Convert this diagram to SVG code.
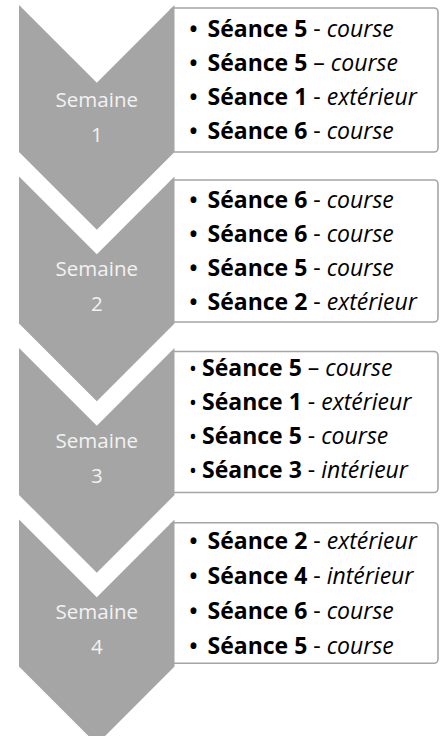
<svg xmlns="http://www.w3.org/2000/svg" width="441" height="736" viewBox="0 0 441 736">
<style>
.chev{fill:#a5a5a5}
.box{fill:#ffffff;stroke:#a5a5a5;stroke-width:1.6}
.wk{font-family:"Open Sans","Noto Sans",sans-serif;font-size:20.5px;fill:#f2f2f2;text-anchor:middle}
.ln{font-family:"Open Sans","Noto Sans",sans-serif;font-size:23px;fill:#000000}
.b{font-weight:bold}
.i{font-style:italic}
.bul{font-family:"Open Sans","Noto Sans",sans-serif;font-size:21px;font-weight:bold;fill:#000000}
.bul2{font-family:"Open Sans","Noto Sans",sans-serif;font-size:21px;fill:#000000}
</style>
<rect width="441" height="736" fill="#ffffff"/>
<g id="week1">
<rect class="box" x="170" y="8" width="268" height="144" rx="4"/>
<polygon class="chev" points="19,5 96.8,82.8 174.5,5 174.5,152 96.8,229.8 19,152"/>
<text class="wk" x="96.8" y="106.5">Semaine</text>
<text class="wk" x="96.8" y="141.5">1</text>
<text class="bul" x="189.5" y="36.5">•</text>
<text class="ln" x="207.5" y="36.5"><tspan class="b">Séance 5</tspan> - <tspan class="i">course</tspan></text>
<text class="bul" x="189.5" y="70.5">•</text>
<text class="ln" x="207.5" y="70.5"><tspan class="b">Séance 5</tspan> – <tspan class="i">course</tspan></text>
<text class="bul" x="189.5" y="104.5">•</text>
<text class="ln" x="207.5" y="104.5"><tspan class="b">Séance 1</tspan> - <tspan class="i">extérieur</tspan></text>
<text class="bul" x="189.5" y="138.5">•</text>
<text class="ln" x="207.5" y="138.5"><tspan class="b">Séance 6</tspan> - <tspan class="i">course</tspan></text>
</g>
<g id="week2">
<rect class="box" x="170" y="180" width="268" height="142" rx="4"/>
<polygon class="chev" points="19,176.5 96.8,254.3 174.5,176.5 174.5,323.5 96.8,401.3 19,323.5"/>
<text class="wk" x="96.8" y="276">Semaine</text>
<text class="wk" x="96.8" y="311">2</text>
<text class="bul" x="189.5" y="207.5">•</text>
<text class="ln" x="207.5" y="207.5"><tspan class="b">Séance 6</tspan> - <tspan class="i">course</tspan></text>
<text class="bul" x="189.5" y="241.5">•</text>
<text class="ln" x="207.5" y="241.5"><tspan class="b">Séance 6</tspan> - <tspan class="i">course</tspan></text>
<text class="bul" x="189.5" y="275.5">•</text>
<text class="ln" x="207.5" y="275.5"><tspan class="b">Séance 5</tspan> - <tspan class="i">course</tspan></text>
<text class="bul" x="189.5" y="309.5">•</text>
<text class="ln" x="207.5" y="309.5"><tspan class="b">Séance 2</tspan> - <tspan class="i">extérieur</tspan></text>
</g>
<g id="week3">
<rect class="box" x="170" y="351.5" width="268" height="141" rx="4"/>
<polygon class="chev" points="19,348 96.8,425.8 174.5,348 174.5,495 96.8,572.8 19,495"/>
<text class="wk" x="96.8" y="447.5">Semaine</text>
<text class="wk" x="96.8" y="482.5">3</text>
<text class="bul2" x="189" y="376">•</text>
<text class="ln" x="202" y="376"><tspan class="b">Séance 5</tspan> – <tspan class="i">course</tspan></text>
<text class="bul2" x="189" y="410">•</text>
<text class="ln" x="202" y="410"><tspan class="b">Séance 1</tspan> - <tspan class="i">extérieur</tspan></text>
<text class="bul2" x="189" y="444">•</text>
<text class="ln" x="202" y="444"><tspan class="b">Séance 5</tspan> - <tspan class="i">course</tspan></text>
<text class="bul2" x="189" y="478">•</text>
<text class="ln" x="202" y="478"><tspan class="b">Séance 3</tspan> - <tspan class="i">intérieur</tspan></text>
</g>
<g id="week4">
<rect class="box" x="170" y="522.7" width="268" height="140.6" rx="4"/>
<polygon class="chev" points="19,519.5 96.8,597.3 174.5,519.5 174.5,666.5 96.8,744.3 19,666.5"/>
<text class="wk" x="96.8" y="619">Semaine</text>
<text class="wk" x="96.8" y="654">4</text>
<text class="bul" x="189.5" y="549">•</text>
<text class="ln" x="207.5" y="549"><tspan class="b">Séance 2</tspan> - <tspan class="i">extérieur</tspan></text>
<text class="bul" x="189.5" y="584">•</text>
<text class="ln" x="207.5" y="584"><tspan class="b">Séance 4</tspan> - <tspan class="i">intérieur</tspan></text>
<text class="bul" x="189.5" y="619">•</text>
<text class="ln" x="207.5" y="619"><tspan class="b">Séance 6</tspan> - <tspan class="i">course</tspan></text>
<text class="bul" x="189.5" y="654">•</text>
<text class="ln" x="207.5" y="654"><tspan class="b">Séance 5</tspan> - <tspan class="i">course</tspan></text>
</g>
<g id="connectors"/>
</svg>
